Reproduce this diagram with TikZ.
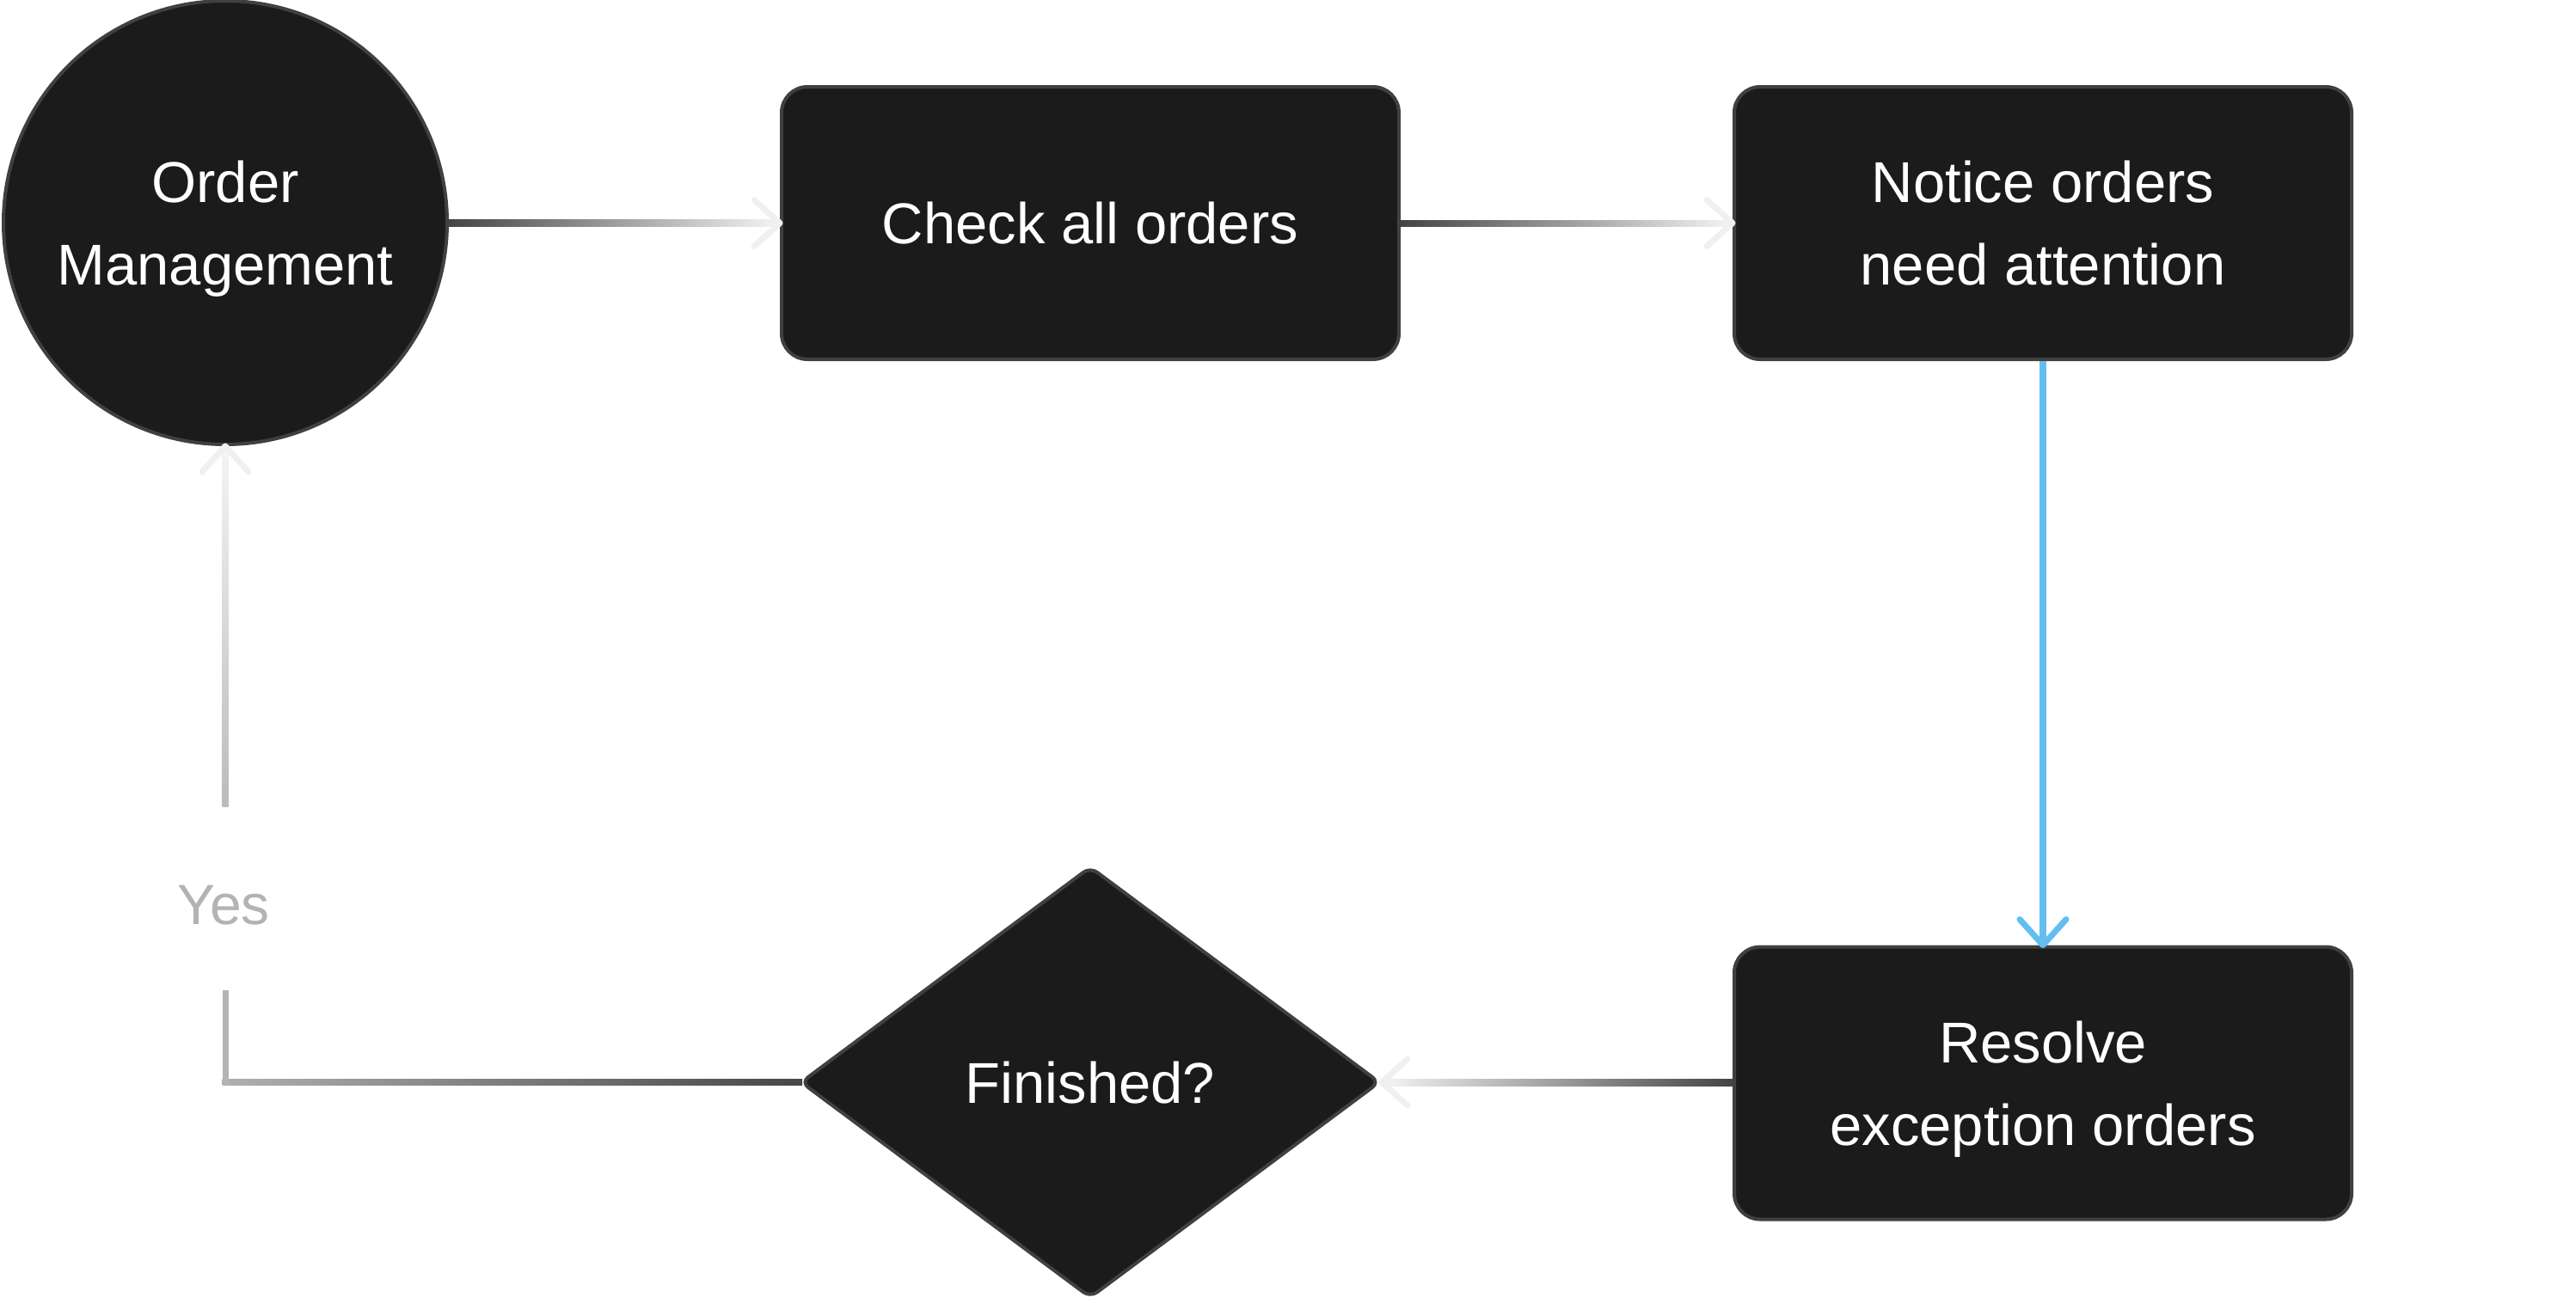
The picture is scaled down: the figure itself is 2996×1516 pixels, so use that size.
\documentclass[tikz,border=0pt]{standalone}
\usepackage{fontspec}
\setmainfont{Liberation Sans}
\usetikzlibrary{shapes.geometric,calc}
\definecolor{nodefill}{HTML}{1B1B1B}
\definecolor{nodeline}{HTML}{404040}
\definecolor{linedark}{HTML}{444444}
\definecolor{linelight}{HTML}{F5F5F5}
\definecolor{tipcol}{HTML}{F0F0F0}
\definecolor{blueline}{HTML}{63BEF0}
\definecolor{yesgray}{HTML}{B3B3B3}
\definecolor{yescorner}{HTML}{B0B0B0}
\definecolor{yesmid}{HTML}{B4B4B4}
\definecolor{yesup}{HTML}{BBBBBB}
\definecolor{yesdark}{HTML}{474747}
\begin{document}
\begin{tikzpicture}[x=0.5pt,y=-0.5pt,
  base/.style={fill=nodefill, draw=nodeline, line width=2pt, text=white,
    font=\fontsize{33.5}{48}\selectfont, align=center, inner sep=0pt, text depth=0pt},
  procbox/.style={base, rectangle, rounded corners=15pt, minimum width=359pt, minimum height=158.5pt},
  startnode/.style={base, circle, minimum size=258pt},
  decision/.style={base, diamond, rounded corners=5pt, minimum width=337pt, minimum height=251pt},
  chev/.style={line width=3.5pt, line cap=round, line join=round},
  lbl/.style={text=yesgray, font=\fontsize{33}{40}\selectfont, inner sep=0pt},
]
\useasboundingbox (0,0) rectangle (2996,1516);

\node[startnode] (om) at (262,259) {Order\\Management};
\node[procbox] (check) at (1268,259.5) {Check all orders};
\node[procbox] (notice) at (2376,259.5) {Notice orders\\need attention};
\node[procbox] (resolve) at (2376,1260) {Resolve\\exception orders};
\node[decision] (fin) at (1268,1259) {Finished?};

% om -> check
\shade[left color=linedark, right color=linelight] ($(om.east)+(-2,-3.5)$) rectangle ($(check.west)+(0,3.5)$);
\draw[chev, tipcol] ($(check.west)+(-30,-27)$) -- (check.west) -- ($(check.west)+(-30,27)$);

% check -> notice
\shade[left color=linedark, right color=linelight] ($(check.east)+(0,-3.5)$) rectangle ($(notice.west)+(0,3.5)$);
\draw[chev, tipcol] ($(notice.west)+(-30,-27)$) -- (notice.west) -- ($(notice.west)+(-30,27)$);

% notice -> resolve
\draw[blueline, line width=4pt] (notice.south) -- (resolve.north);
\draw[chev, blueline] ($(resolve.north)+(-27,-30)$) -- (resolve.north) -- ($(resolve.north)+(27,-30)$);

% resolve -> fin
\shade[left color=linelight, right color=linedark] ($(fin.east)+(0,-3.5)$) rectangle ($(resolve.west)+(0,3.5)$);
\draw[chev, tipcol] ($(fin.east)+(30,-27)$) -- (fin.east) -- ($(fin.east)+(30,27)$);

% fin -> om (Yes)
\node[lbl] (yes) at (260,1053) {Yes};
\coordinate (corner) at (om.south |- fin.west);
\coordinate (gaplow) at ($(corner)+(0,-107)$);
\coordinate (gaphigh) at ($(om.south)+(0,419)$);
\shade[left color=yescorner, right color=yesdark] ($(corner)+(-3.5,-3.5)$) rectangle ($(fin.west)+(4,3.5)$);
\fill[yesmid] ($(corner)+(-3.5,3.5)$) rectangle ($(gaplow)+(3.5,0)$);
\shade[top color=linelight, bottom color=yesup] ($(om.south)+(-3.5,0)$) rectangle ($(gaphigh)+(3.5,0)$);
\draw[chev, tipcol] ($(om.south)+(-27,30)$) -- (om.south) -- ($(om.south)+(27,30)$);
\end{tikzpicture}
\end{document}
